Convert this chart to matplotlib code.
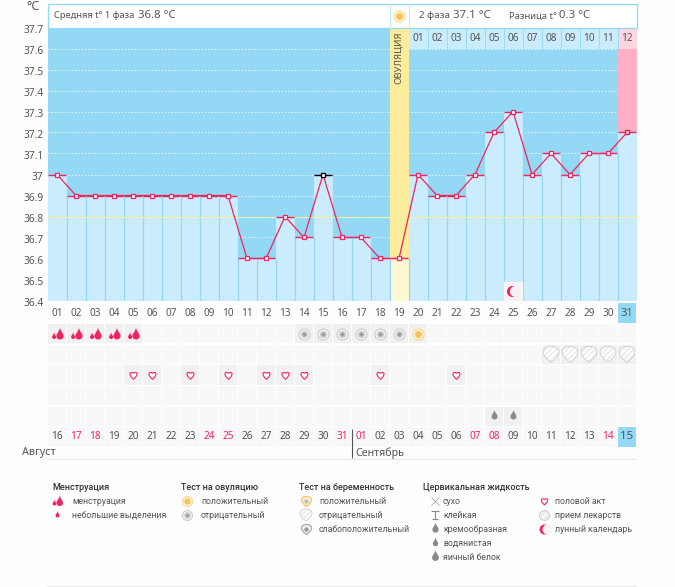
import numpy as np
import matplotlib
matplotlib.use('Agg')
import matplotlib.pyplot as plt
from matplotlib.patches import Rectangle
from matplotlib.path import Path
from matplotlib.transforms import ScaledTranslation

plt.rcParams['font.family'] = ['Noto Sans', 'DejaVu Sans']
plt.rcParams['hatch.linewidth'] = 0.4

# данные графика
days = np.arange(1, 32)
temps = [37, 36.9, 36.9, 36.9, 36.9, 36.9, 36.9, 36.9, 36.9, 36.9, 36.6, 36.6, 36.8, 36.7, 37, 36.7,
         36.7, 36.6, 36.6, 37, 36.9, 36.9, 37, 37.2, 37.3, 37, 37.1, 37, 37.1, 37.1, 37.2]
yticks = [36.4, 36.5, 36.6, 36.7, 36.8, 36.9, 37, 37.1, 37.2, 37.3, 37.4, 37.5, 37.6, 37.7]
ytick_labels = ['36.4', '36.5', '36.6', '36.7', '36.8', '36.9', '37', '37.1', '37.2', '37.3', '37.4', '37.5', '37.6', '37.7']
cycle_labels = ['%02d' % d for d in range(1, 32)]
phase2_labels = ['01', '02', '03', '04', '05', '06', '07', '08', '09', '10', '11', '12']
date_labels = ['16', '17', '18', '19', '20', '21', '22', '23', '24', '25', '26', '27', '28', '29', '30', '31',
               '01', '02', '03', '04', '05', '06', '07', '08', '09', '10', '11', '12', '13', '14', '15']
red_dates = ['17', '18', '24', '25', '31', '01', '07', '08', '14']
period_days = [1, 2, 3, 4, 5]
ovul_neg_days = [14, 15, 16, 17, 18, 19]
ovul_pos_days = [20]
preg_neg_days = [27, 28, 29, 30, 31]
sex_days = [5, 6, 8, 10, 12, 13, 14, 18, 22]
water_days = [24, 25]
moon_day = 25
ovulation_day = 19
today = 31

BLUE = '#93d8f5'
LIGHT = '#cbecfd'
RED = '#f0245f'
GREY = '#555555'
W, H = 675, 587
NARROW = ['Roboto', 'DejaVu Sans']


def px_axes(fig, x0, y0, x1, y1):
    return fig.add_axes([x0 / W, 1 - y1 / H, (x1 - x0) / W, (y1 - y0) / H])


def drop(cx, cy, r):
    # капля: острие вверху
    verts = [(cx, cy + 2.2 * r), (cx + 0.3 * r, cy + r), (cx + r, cy + 0.6 * r), (cx + r, cy), (cx + r, cy - 0.6 * r),
             (cx + 0.6 * r, cy - r), (cx, cy - r), (cx - 0.6 * r, cy - r), (cx - r, cy - 0.6 * r), (cx - r, cy),
             (cx - r, cy + 0.6 * r), (cx - 0.3 * r, cy + r), (cx, cy + 2.2 * r)]
    codes = [Path.MOVETO] + [Path.CURVE4] * 12
    return Path(verts, codes)


heart = Path([(0, -1), (-1.5, 0.2), (-1.0, 1.3), (0, 0.6), (1.0, 1.3), (1.5, 0.2), (0, -1), (0, -1)],
             [Path.MOVETO, Path.CURVE4, Path.CURVE4, Path.CURVE4, Path.CURVE4, Path.CURVE4, Path.CURVE4, Path.CLOSEPOLY])
shield = Path([(0, -1), (-0.5, -0.6), (-1, -0.2), (-1, 0.3), (-1, 0.8), (-0.5, 1), (0, 1), (0.5, 1), (1, 0.8), (1, 0.3),
               (1, -0.2), (0.5, -0.6), (0, -1)], [Path.MOVETO] + [Path.CURVE4] * 12)
period_mark = Path.make_compound_path(drop(0.55, -0.3, 0.8), drop(-0.75, -0.55, 0.45))
t_mark = Path([(-1, 1), (1, 1), (0, 1), (0, -1), (-0.7, -1), (0.7, -1)],
              [Path.MOVETO, Path.LINETO, Path.MOVETO, Path.LINETO, Path.MOVETO, Path.LINETO])


def icon(ax, x, y, kind, s=1.0):
    if kind == 'period':
        ax.plot(x, y, marker=period_mark, ms=9.5 * s, color=RED, mew=0, ls='none', zorder=4)
    elif kind == 'spot':
        ax.plot(x, y, marker=drop(0, 0, 1), ms=7 * s, color=RED, mew=0, ls='none', zorder=4)
    elif kind == 'ovul_pos':
        ax.plot(x, y, 'o', ms=8 * s, mfc='#fff6dc', mec='#f6d48a', mew=0.7, zorder=4)
        ax.plot(x, y, 'o', ms=5 * s, color='#f8c35c', mew=0, zorder=4)
    elif kind == 'ovul_neg':
        ax.plot(x, y, 'o', ms=8 * s, mfc='#f4f4f4', mec='#c8c8c8', mew=0.7, zorder=4)
        ax.plot(x, y, 'o', ms=5 * s, color='#c4c4c4', mew=0, zorder=4)
        ax.plot(x, y, 'o', ms=2 * s, color='#8e8e8e', mew=0, zorder=4)
    elif kind == 'preg_neg':
        ax.scatter([x], [y], marker=shield, s=(9.5 * s) ** 2, facecolor='white', edgecolor='#cccccc', hatch='//////',
                   linewidth=0.6, zorder=4)
    elif kind == 'preg_pos':
        ax.plot(x, y, marker=shield, ms=8 * s, mfc='#fff0cc', mec='#f3c777', mew=0.9, zorder=4)
        ax.plot(x, y, 'o', ms=3.5 * s, color='#bfbfbf', mew=0, zorder=4)
    elif kind == 'preg_weak':
        ax.plot(x, y, marker=shield, ms=8 * s, mfc='#f1f1f1', mec='#a9a9a9', mew=0.9, zorder=4)
        ax.plot(x, y, 'o', ms=3.5 * s, color='#9a9a9a', mew=0, zorder=4)
    elif kind == 'sex':
        ax.plot(x, y, marker=heart, ms=8 * s, mfc='white', mec=RED, mew=0.8, ls='none', zorder=4)
    elif kind == 'water':
        ax.plot(x, y, marker=drop(0, 0, 1), ms=9.5 * s, color='#8a8a8a', mew=0, ls='none', zorder=4)
    elif kind == 'egg':
        ax.plot(x, y, marker=drop(0, 0, 1), ms=12 * s, color='#8a8a8a', mew=0, ls='none', zorder=4)
    elif kind == 'dry':
        ax.plot(x, y, 'x', ms=6 * s, color='#999999', mew=0.5, zorder=4)
    elif kind == 'sticky':
        ax.plot(x, y, marker=t_mark, ms=7 * s, mfc='none', mec='#8a8a8a', mew=0.8, ls='none', zorder=4)
    elif kind == 'creamy':
        ax.plot(x, y, marker=drop(0, 0, 1), ms=11 * s, color='#8a8a8a', mew=0, ls='none', zorder=4)
    elif kind == 'pill':
        ax.plot(x, y, 'o', ms=8 * s, mfc='#ececec', mec='#c9c9c9', mew=0.6, zorder=4)
        ax.plot(x, y, marker=(2, 2, -45), ms=5 * s, color='white', mew=1, zorder=4)
    elif kind == 'moon':
        ax.plot(x, y, 'o', ms=8 * s, color=RED, mew=0, zorder=4)
        ax.plot(x, y, 'o', ms=8 * s, color='#f6f3f5', mew=0, zorder=4,
                transform=ax.transData + ScaledTranslation(2.4 / 72, 0, ax.figure.dpi_scale_trans))


fig = plt.figure(figsize=(6.75, 5.87), dpi=100, facecolor='#fefefe')

# основной график температуры
ax = px_axes(fig, 47.5, 27.5, 636.5, 300.5)
ax.set_facecolor(BLUE)
ax.set_xlim(0.5, 31.5)
ax.set_ylim(36.4, 37.7)
for s in ax.spines.values():
    s.set_visible(False)
ax.set_xticks([])
ax.set_yticks(yticks)
ax.set_yticklabels(ytick_labels, fontsize=7.3, color=GREY)
ax.tick_params(axis='y', length=0, pad=3)
for lab in ax.get_yticklabels():
    lab.set_transform(lab.get_transform() + ScaledTranslation(0, -1.2 / 72, fig.dpi_scale_trans))

ax.hlines(yticks[1:-1], 0.5, 31.5, colors='white', linestyles=(0, (1, 2)), linewidth=0.8, zorder=1)
ax.bar(days, np.array(temps) - 36.4, bottom=36.4, width=1.0, color=LIGHT, zorder=2)
# овуляция и последний день
ax.bar(ovulation_day, 37.7 - 36.4, bottom=36.4, width=1, color='#fdec9b', zorder=3)
ax.bar(ovulation_day, temps[ovulation_day - 1] - 36.4, bottom=36.4, width=1, color='#fef8d0', zorder=3)
ax.bar(today, 37.6 - temps[today - 1], bottom=temps[today - 1], width=1, color='#ffb0c4', zorder=2)
# шапка второй фазы
for d, lab in zip(range(20, 32), phase2_labels):
    ax.bar(d, 0.1, bottom=37.6, width=1.0, color='#ffd5e0' if d == today else LIGHT, zorder=2)
    ax.text(d, 37.65, lab, ha='center', va='center', fontsize=7.2, color=GREY, zorder=6)
ax.vlines(days + 0.5, 36.4, temps, colors=BLUE, linewidth=0.9, zorder=3)
ax.vlines(np.arange(20, 31) + 0.5, 37.6, 37.7, colors=BLUE, linewidth=0.6, zorder=3)
ax.text(ovulation_day - 0.03, 37.68, 'ОВУЛЯЦИЯ', rotation=90, ha='center', va='top', fontsize=6.9, color=GREY, zorder=6)
ax.hlines(36.8, 0.5, 31.5, colors='#f6f2a8', linewidth=0.8, zorder=3)
ax.add_patch(Rectangle((moon_day - 0.47, 36.4), 0.95, 0.09, color='#f6f3f5', zorder=3))
icon(ax, moon_day - 0.05, 36.445, 'moon', 1.0)

# линия температуры
cap_colors = ['black' if d == 15 else RED for d in days]
ax.plot(days, temps, color=RED, linewidth=0.9, zorder=4)
ax.hlines(temps, days - 0.47, days + 0.47, colors=cap_colors, linewidth=1.0, zorder=4)
ax.plot(days, temps, ls='none', marker='s', ms=3.3, mfc='white', mec=RED, mew=0.9, zorder=5)
ax.plot(15, temps[14], marker='s', ms=3.3, mfc='white', mec='black', mew=0.9, zorder=5)
ax.plot(today, temps[today - 1], marker='s', ms=3, mfc='#ffb0c4', mec='#c8244f', mew=0.8, zorder=5)

# календарь под графиком
cal = px_axes(fig, 47.5, 302.7, 636.5, 447.3)
cal.set_xlim(0.5, 31.5)
cal.set_ylim(6.5, -0.5)
cal.axis('off')
for row in range(1, 7):
    cal.bar(days, 0.95, bottom=row - 0.475, width=0.95, color='#f8f7f9', zorder=1)
cal.bar(today, 0.95, bottom=-0.475, width=0.95, color=BLUE, zorder=1)
cal.bar(today, 0.95, bottom=5.525, width=0.95, color=BLUE, zorder=1)
for d, lab in zip(days, cycle_labels):
    cal.text(d, 0, lab, ha='center', va='center', fontsize=8 if d == today else 7.2, color=GREY, zorder=3)
for d, lab in zip(days, date_labels):
    cal.text(d, 6, lab, ha='center', va='center', fontsize=8.4 if d == today else 7.2, zorder=3,
             color=RED if lab in red_dates and d != today else GREY)

for ds, row, kind in [(period_days, 1, 'period'), (ovul_neg_days, 1, 'ovul_neg'), (ovul_pos_days, 1, 'ovul_pos'),
                      (preg_neg_days, 2, 'preg_neg'), (sex_days, 3, 'sex'), (water_days, 5, 'water')]:
    cal.bar(ds, 0.95, bottom=row - 0.475, width=0.95, color='#f1f1f1', zorder=2)
    for d in ds:
        icon(cal, d, row, kind, 1.2 if kind == 'preg_neg' else 1.0)

# страница: шапка, месяцы, легенда в пикселях
page = fig.add_axes([0, 0, 1, 1], facecolor='none')
page.set_xlim(0, W)
page.set_ylim(H, 0)
page.axis('off')
page.add_patch(Rectangle((47.5, 3.5), 589, 24, facecolor='white', edgecolor=BLUE, linewidth=0.9))
page.vlines([389.5, 408.5], 3.5, 27.5, colors=LIGHT, linewidth=0.9)
icon(page, 399, 16, 'ovul_pos', 1.0)
page.text(54, 16, 'Средняя t° 1 фаза', fontsize=6.7, color=GREY, va='center')
page.text(138, 16, '36.8 °С', fontsize=8.2, color=GREY, va='center')
page.text(419, 16, '2 фаза', fontsize=7, color=GREY, va='center')
page.text(453, 16, '37.1 °С', fontsize=8.2, color=GREY, va='center')
page.text(509, 16, 'Разница t°', fontsize=6.8, color=GREY, va='center')
page.text(559, 16, '0.3 °С', fontsize=8.2, color=GREY, va='center')
page.text(40, 7, '°С', fontsize=9, color=GREY, ha='right', va='center')

page.text(22, 453, 'Август', fontsize=7.8, color=GREY, va='center')
page.text(355, 453, 'Сентябрь', fontsize=7.7, color=GREY, va='center')
page.vlines(351.5, 429, 458, colors='#555555', linewidth=0.8)
page.hlines(458.5, 47, 636, colors='#e8e8e8', linewidth=0.9)
page.hlines(586, 47, 636, colors='#e8e8e8', linewidth=0.9)

legend_groups = [
    (52, 'Менструация', 57, 72, [('period', 'менструация'), ('spot', 'небольшие выделения')]),
    (181, 'Тест на овуляцию', 187, 201, [('ovul_pos', 'положительный'), ('ovul_neg', 'отрицательный')]),
    (299, 'Тест на беременность', 306, 319, [('preg_pos', 'положительный'), ('preg_neg', 'отрицательный'),
                                             ('preg_weak', 'слабоположительный')]),
    (423, 'Цервикальная жидкость', 435, 443, [('dry', 'сухо'), ('sticky', 'клейкая'), ('creamy', 'кремообразная'),
                                              ('water', 'водянистая'), ('egg', 'яичный белок')]),
    (None, None, 544, 555, [('sex', 'половой акт'), ('pill', 'прием лекарств'), ('moon', 'лунный календарь')]),
]
for title_x, title, icon_x, text_x, items in legend_groups:
    if title:
        page.text(title_x, 487, title, fontsize=6.5, color='#333333', va='center', family=NARROW, fontweight='medium')
    for i, (kind, lab) in enumerate(items):
        y = 501 + 14 * i
        icon(page, icon_x, y, kind, 0.9)
        page.text(text_x, y, lab, fontsize=6.3, color=GREY, va='center', family=NARROW)
page.set_xlim(0, W)
page.set_ylim(H, 0)

fig.savefig('out.png', dpi=100, facecolor=fig.get_facecolor())
